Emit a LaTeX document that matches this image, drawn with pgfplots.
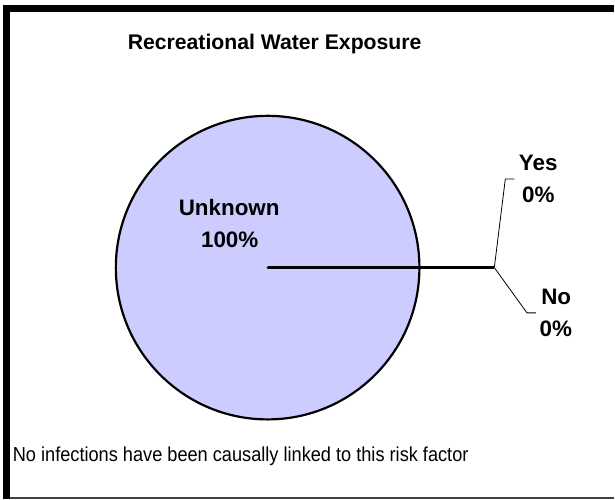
\documentclass[border=0pt]{standalone}
\usepackage{pgfplots}
\pgfplotsset{compat=1.18}
\usepackage{pgfplotstable}
\usepackage{fontspec}
\setmainfont{Liberation Sans}

\definecolor{piefill}{RGB}{204,204,255}

% pie data (percent)
\pgfplotstableread{
label value
Yes 0
No 0
Unknown 100
}\piedata

\begin{document}
\begin{tikzpicture}
% slice angles, clockwise from 3 o'clock
\def\total{0}
\pgfplotsforeachungrouped \i in {0,1,2}{%
  \pgfplotstablegetelem{\i}{value}\of\piedata
  \pgfmathsetmacro\total{\total+\pgfplotsretval}}
\def\cur{0}
\pgfplotsforeachungrouped \i in {0,1,2}{%
  \pgfplotstablegetelem{\i}{value}\of\piedata
  \pgfmathsetmacro\nxt{\cur-\pgfplotsretval/\total*360}
  \expandafter\let\csname pieS\i\endcsname\cur
  \expandafter\let\csname pieE\i\endcsname\nxt
  \let\cur\nxt}
\begin{axis}[
  hide axis, scale only axis,
  width=615bp, height=500bp,
  xmin=0, xmax=615, ymin=0, ymax=500,
  clip=false,
  ]
  \path (axis cs:0,0) rectangle (axis cs:615,500);
  % frame
  \fill[black] (axis cs:3,488) rectangle (axis cs:615,495);
  \fill[black] (axis cs:3,0) rectangle (axis cs:10,495);
  \draw[line width=1.7bp, black!75] (axis cs:10,1.2) -- (axis cs:615,1.2);
  % slices
  \pgfplotsinvokeforeach{0,1,2}{
    \filldraw[fill=piefill, draw=black, line width=2.2bp, line join=round]
      (axis cs:268,232) -- ++(\csname pieS#1\endcsname:152bp)
      arc[start angle=\csname pieS#1\endcsname, end angle=\csname pieE#1\endcsname, radius=152bp]
      -- cycle;
  }
  % leader lines
  \draw[line width=2.8bp] (axis cs:268,232) -- (axis cs:495,232);
  \draw[line width=0.8bp] (axis cs:495,232) -- (axis cs:506,320.7) -- (axis cs:515,320.7);
  \draw[line width=0.8bp] (axis cs:495,232) -- (axis cs:527.7,186.7) -- (axis cs:536.7,186.7);
  % texts
  \node[anchor=base, font=\bfseries\fontsize{21.3}{25}\selectfont] at (axis cs:275,450.5) {Recreational Water Exposure};
  \begin{scope}[every node/.style={anchor=base, font=\bfseries\fontsize{22.5}{26}\selectfont}]
    \node at (axis cs:229.5,284) {Unknown};
    \node at (axis cs:230,251.7) {100\%};
    \node at (axis cs:539,329) {Yes};
    \node at (axis cs:539,297.3) {0\%};
    \node at (axis cs:557,195) {No};
    \node at (axis cs:556.5,163.3) {0\%};
  \end{scope}
  \node[anchor=base west, inner sep=0pt, xscale=0.9, font=\fontsize{20.3}{24}\selectfont] at (axis cs:12.7,38.3) {No infections have been causally linked to this risk factor};
\end{axis}
\end{tikzpicture}
\end{document}
